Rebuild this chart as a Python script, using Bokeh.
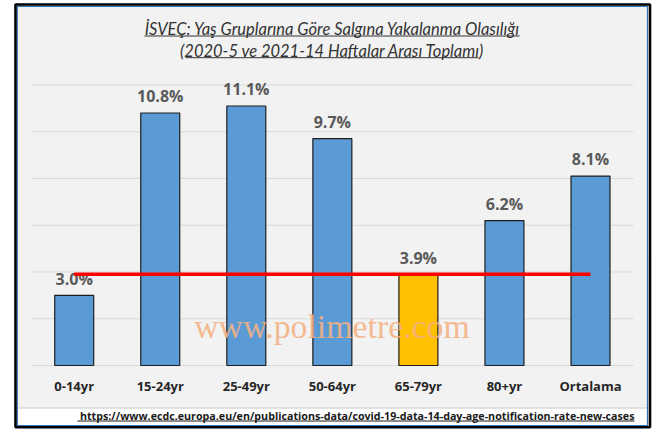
from bokeh.plotting import figure
from bokeh.models import Range1d, ColumnDataSource
from bokeh.core.properties import value
from bokeh.embed import file_html
from bokeh.resources import INLINE

# ---------------- data ----------------
categories = ["0-14yr", "15-24yr", "25-49yr", "50-64yr", "65-79yr", "80+yr", "Ortalama"]
rates = [3.0, 10.8, 11.1, 9.7, 3.9, 6.2, 8.1]
bar_colors = ["#5B9BD5", "#5B9BD5", "#5B9BD5", "#5B9BD5", "#FFC000", "#5B9BD5", "#5B9BD5"]
reference_level = 3.9          # red reference line (65-79yr level)
grid_ticks = [0, 2, 4, 6, 8, 10, 12]
title_line1 = "İSVEÇ: Yaş Gruplarına Göre Salgına Yakalanma Olasılığı"
title_line2 = "(2020-5 ve 2021-14 Haftalar Arası Toplamı)"
source_url = "https://www.ecdc.europa.eu/en/publications-data/covid-19-data-14-day-age-notification-rate-new-cases"
watermark = "www.polimetre.com"

# ---------------- layout helpers (page pixel -> data) ----------------
W, H = 658, 432
PX0, PY0 = 0, 0          # page position of the figure's top-left corner
CAT0, CATW = 73.7, 86.05  # page x of first category centre, category spacing
BASE, UNIT = 365.0, 23.38  # page y of zero line, pixels per percent
BL = 0.29                 # baseline correction (em) for the svg text


def X(px):
    return (px - CAT0) / CATW


def Y(py):
    return (BASE - py) / UNIT


p = figure(width=W, height=H,
           x_range=Range1d(X(PX0), X(PX0 + W)),
           y_range=Range1d(Y(PY0 + H), Y(PY0)),
           x_axis_type=None, y_axis_type=None,
           output_backend="svg", toolbar_location=None,
           min_border=0, min_border_left=0, min_border_right=0,
           min_border_top=0, min_border_bottom=0,
           background_fill_color="white", border_fill_color="white",
           outline_line_color=None)
p.grid.visible = False

# chart area and footer backgrounds
p.quad(left=[X(17)], right=[X(647)], bottom=[Y(407)], top=[Y(6)],
       fill_color="#F2F2F2", line_color=None)
p.quad(left=[X(17)], right=[X(647)], bottom=[Y(425)], top=[Y(407.5)],
       fill_color="white", line_color="#C8C8C8", line_width=1)

# gridlines
n = len(categories)
p.segment(x0=[-0.5] * len(grid_ticks), x1=[n - 0.5] * len(grid_ticks),
          y0=grid_ticks, y1=grid_ticks, line_color="#D9D9D9", line_width=1)

# bars
xs = list(range(n))
src = ColumnDataSource(dict(x=xs, top=rates, color=bar_colors,
                            cat=categories,
                            lab=[f"{v:.1f}%" for v in rates]))
p.vbar(x="x", top="top", bottom=0, width=0.453, source=src,
       fill_color="color", line_color="#1E1E1E", line_width=1.2)

# value labels
p.text(x="x", y="top", text="lab", source=src, y_offset=-12 - BL * 16,
       text_align="center", text_baseline="alphabetic",
       text_font=value("Open Sans"), text_font_style="bold",
       text_font_size="16px", text_color="#595959")

# category labels (under the zero line)
p.text(x="x", y=Y(389), text="cat", source=src, y_offset=-BL * 13,
       text_align="center", text_baseline="alphabetic",
       text_font=value("Open Sans"), text_font_style="bold",
       text_font_size="13px", text_color="#262626")

# red reference line
p.line(x=[0, n - 1], y=[reference_level, reference_level],
       line_color="#FF0000", line_width=3.5)

# watermark
p.text(x=[X(331.5)], y=[Y(336)], text=[watermark], y_offset=-BL * 33.8,
       text_align="center", text_baseline="alphabetic",
       text_font=value("Liberation Serif"), text_font_size="33.8px",
       text_color="#F4B183", text_alpha=0.9)

# title
p.text(x=[X(332)], y=[Y(33.3)], text=[title_line1], y_offset=-BL * 16.5,
       text_align="center", text_baseline="alphabetic",
       text_font=value("Lato"), text_font_style="italic",
       text_font_size="16.5px", text_color="#333333")
p.text(x=[X(332)], y=[Y(55)], text=[title_line2], y_offset=-BL * 16.5,
       text_align="center", text_baseline="alphabetic",
       text_font=value("Lato"), text_font_style="italic",
       text_font_size="16.5px", text_color="#333333")
p.segment(x0=[X(144), X(185)], x1=[X(519), X(478)],
          y0=[Y(35.5), Y(57.2)], y1=[Y(35.5), Y(57.2)],
          line_color="#333333", line_width=1)

# footer url
p.text(x=[X(634)], y=[Y(418.5)], text=[source_url], y_offset=-BL * 10.7,
       text_align="right", text_baseline="alphabetic",
       text_font=value("Open Sans"), text_font_style="bold",
       text_font_size="10.7px", text_color="#1A1A1A")
p.segment(x0=[X(77)], x1=[X(634)], y0=[Y(420.5)], y1=[Y(420.5)],
          line_color="#1A1A1A", line_width=1)

# frame borders
p.quad(left=[X(16.8)], right=[X(647)], bottom=[Y(425)], top=[Y(5.8)],
       fill_color=None, line_color="#2E75B6", line_width=1.2)
p.quad(left=[X(15)], right=[X(649.5)], bottom=[Y(426.7)], top=[Y(4)],
       fill_color=None, line_color="#000000", line_width=2.6)

open("out.html", "w").write(file_html(p, INLINE))
